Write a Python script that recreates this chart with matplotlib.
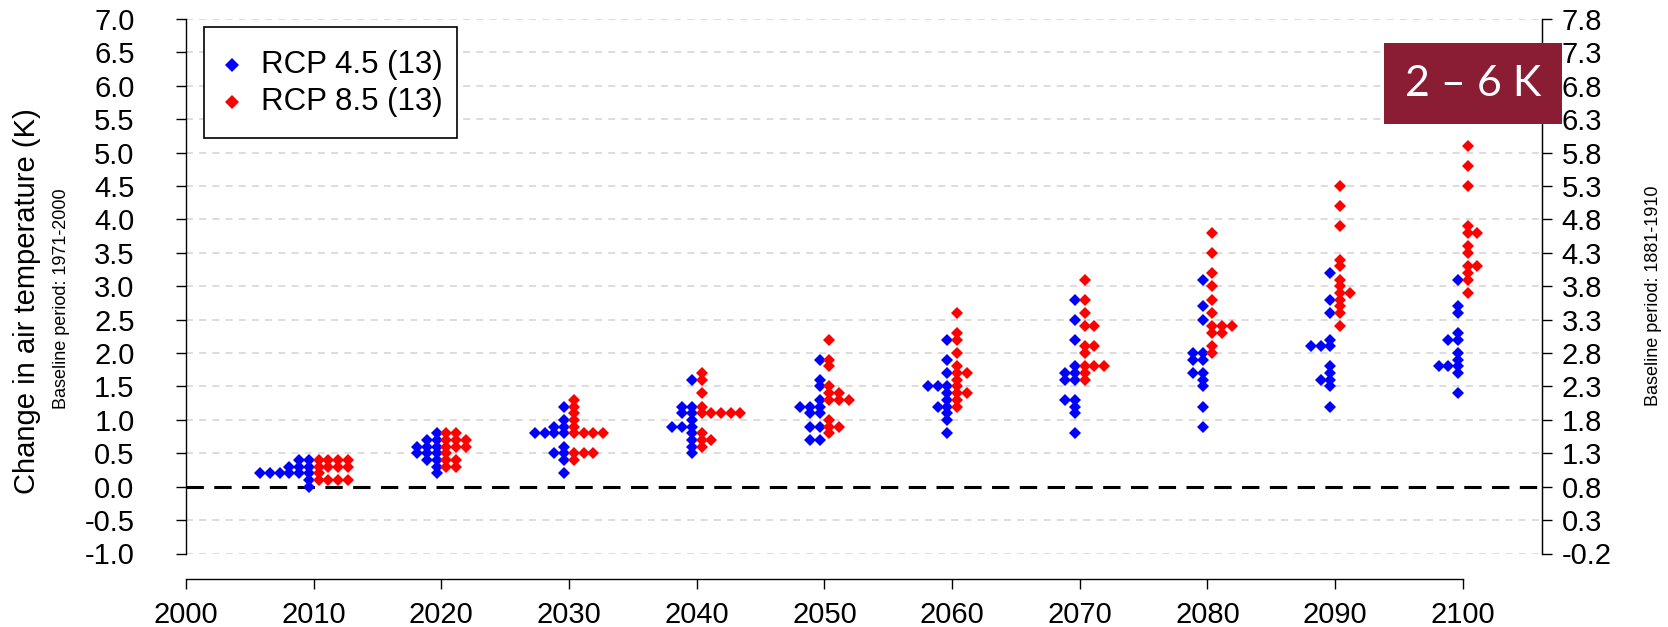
import matplotlib
matplotlib.use("Agg")
import matplotlib.pyplot as plt
import numpy as np
from matplotlib.patches import Rectangle

plt.rcParams['font.family'] = ['Liberation Sans', 'DejaVu Sans']
plt.rcParams['lines.scale_dashes'] = False

# ---------------- data ----------------
decades = [2010, 2020, 2030, 2040, 2050, 2060, 2070, 2080, 2090, 2100]

rcp45_2010 = [0.4, 0.4, 0.3, 0.3, 0.3, 0.2, 0.2, 0.2, 0.2, 0.2, 0.2, 0.1, 0.0]
rcp45_2020 = [0.8, 0.7, 0.7, 0.6, 0.6, 0.6, 0.5, 0.5, 0.5, 0.4, 0.4, 0.3, 0.2]
rcp45_2030 = [1.2, 1.0, 0.9, 0.9, 0.8, 0.8, 0.8, 0.8, 0.6, 0.5, 0.5, 0.4, 0.2]
rcp45_2040 = [1.6, 1.2, 1.2, 1.1, 1.1, 1.0, 0.9, 0.9, 0.9, 0.8, 0.7, 0.6, 0.5]
rcp45_2050 = [1.9, 1.6, 1.5, 1.3, 1.2, 1.2, 1.2, 1.1, 1.1, 0.9, 0.9, 0.7, 0.7]
rcp45_2060 = [2.2, 1.9, 1.7, 1.5, 1.5, 1.5, 1.4, 1.3, 1.2, 1.2, 1.1, 1.0, 0.8]
rcp45_2070 = [2.8, 2.5, 2.2, 1.8, 1.7, 1.7, 1.6, 1.6, 1.3, 1.3, 1.2, 1.1, 0.8]
rcp45_2080 = [3.1, 2.7, 2.5, 2.0, 2.0, 1.9, 1.9, 1.7, 1.7, 1.6, 1.5, 1.2, 0.9]
rcp45_2090 = [3.2, 2.8, 2.6, 2.2, 2.1, 2.1, 2.1, 1.8, 1.7, 1.6, 1.6, 1.5, 1.2]
rcp45_2100 = [3.1, 2.7, 2.6, 2.3, 2.2, 2.2, 2.0, 1.9, 1.8, 1.8, 1.8, 1.7, 1.4]

rcp85_2010 = [0.4, 0.4, 0.4, 0.4, 0.3, 0.3, 0.3, 0.3, 0.2, 0.1, 0.1, 0.1, 0.1]
rcp85_2020 = [0.8, 0.8, 0.7, 0.7, 0.7, 0.6, 0.6, 0.6, 0.5, 0.4, 0.4, 0.3, 0.3]
rcp85_2030 = [1.3, 1.2, 1.1, 1.0, 0.9, 0.8, 0.8, 0.8, 0.8, 0.5, 0.5, 0.5, 0.4]
rcp85_2040 = [1.7, 1.6, 1.4, 1.2, 1.1, 1.1, 1.1, 1.1, 1.1, 0.8, 0.7, 0.7, 0.6]
rcp85_2050 = [2.2, 1.9, 1.8, 1.5, 1.4, 1.4, 1.3, 1.3, 1.3, 1.0, 0.9, 0.9, 0.8]
rcp85_2060 = [2.6, 2.3, 2.2, 2.0, 1.8, 1.7, 1.7, 1.6, 1.5, 1.4, 1.4, 1.3, 1.2]
rcp85_2070 = [3.1, 2.8, 2.6, 2.4, 2.4, 2.1, 2.1, 2.0, 1.8, 1.8, 1.8, 1.7, 1.6]
rcp85_2080 = [3.8, 3.5, 3.2, 3.0, 2.8, 2.6, 2.4, 2.4, 2.4, 2.3, 2.3, 2.1, 2.0]
rcp85_2090 = [4.5, 4.2, 3.9, 3.4, 3.3, 3.1, 3.0, 2.9, 2.9, 2.8, 2.7, 2.6, 2.4]
rcp85_2100 = [5.1, 4.8, 4.5, 3.9, 3.8, 3.8, 3.6, 3.5, 3.3, 3.3, 3.2, 3.1, 2.9]

rcp45 = [rcp45_2010, rcp45_2020, rcp45_2030, rcp45_2040, rcp45_2050,
         rcp45_2060, rcp45_2070, rcp45_2080, rcp45_2090, rcp45_2100]
rcp85 = [rcp85_2010, rcp85_2020, rcp85_2030, rcp85_2040, rcp85_2050,
         rcp85_2060, rcp85_2070, rcp85_2080, rcp85_2090, rcp85_2100]

series_labels = ["RCP 4.5 (13)", "RCP 8.5 (13)"]
series_colors = ["#0000FF", "#FF0000"]
left_ticks = np.arange(-1.0, 7.01, 0.5)
baseline_offset = 0.8
year_ticks = list(range(2000, 2101, 10))
range_text = "2 \u2013 6 K"

# ---------------- layout helpers ----------------
STEP = 0.76   # horizontal spacing of swarm points (years)


def swarm_x(year, values, side):
    counts = {}
    xs = []
    for v in values:
        key = int(round(v * 10))
        k = counts.get(key, 0)
        counts[key] = k + 1
        xs.append(year + side * (k + 0.5) * STEP)
    return xs


W, H = 1668, 627
fig = plt.figure(figsize=(W / 100, H / 100), dpi=100)
x0, x1 = 186, 1542
y0, y1 = 19, 553.5
ax = fig.add_axes([x0 / W, 1 - y1 / H, (x1 - x0) / W, (y1 - y0) / H])
ax.set_xlim(2000, 2106.2)
ax.set_ylim(-1.0, 7.0)

# grid lines
for yv in left_ticks:
    if abs(yv) < 1e-9:
        continue
    ax.axhline(yv, color="#D3D3D3", lw=1.1, linestyle=(0, (5, 4.5)), zorder=1)
ax.axhline(0.0, color="black", lw=2.2, linestyle=(0, (12.5, 7.5)), zorder=1)

# points
for year, v45, v85 in zip(decades, rcp45, rcp85):
    ax.plot(swarm_x(year, v45, -1), v45, linestyle="none", marker="D",
            ms=5.8, mew=0, color=series_colors[0], zorder=3)
    ax.plot(swarm_x(year, v85, +1), v85, linestyle="none", marker="D",
            ms=5.8, mew=0, color=series_colors[1], zorder=3)

# axes styling
ax.spines['top'].set_visible(False)
for s in ['left', 'right', 'bottom']:
    ax.spines[s].set_linewidth(1.0)
ax.spines['left'].set_bounds(-1.0, 7.0)
ax.spines['right'].set_bounds(-1.0, 7.0)
ax.spines['bottom'].set_bounds(2000, 2100)
ax.spines['bottom'].set_position(('outward', 18))

ax.set_yticks(left_ticks)
ax.set_yticklabels([f"{t:.1f}" for t in left_ticks])
ax.set_xticks(year_ticks)
ax.set_xticklabels([str(t) for t in year_ticks])
ax.tick_params(axis='both', labelsize=21, length=7, width=1.0)
ax.tick_params(axis='y', pad=30)
ax.tick_params(axis='x', pad=9)

ax2 = ax.twinx()
ax2.set_ylim(-1.0 + baseline_offset, 7.0 + baseline_offset)
right_ticks = left_ticks + baseline_offset
ax2.set_yticks(right_ticks)
ax2.set_yticklabels([f"{t:.1f}" for t in right_ticks])
ax2.tick_params(axis='y', labelsize=21, length=7, width=1.0, pad=7)
for s in ['top', 'left', 'bottom']:
    ax2.spines[s].set_visible(False)
ax2.spines['right'].set_bounds(-1.0 + baseline_offset, 7.0 + baseline_offset)

# axis labels
fig.text(27 / W, 1 - 301 / H, "Change in air temperature (K)", rotation=90,
         ha="center", va="center", fontsize=21, zorder=4)
fig.text(62 / W, 1 - 299 / H, "Baseline period: 1971-2000", rotation=90,
         ha="center", va="center", fontsize=13)
fig.text(1654 / W, 1 - 296 / H, "Baseline period: 1881-1910", rotation=90,
         ha="center", va="center", fontsize=13)

# legend box
leg = Rectangle((204 / W, 1 - 138 / H), (457 - 204) / W, (138 - 27) / H,
                transform=fig.transFigure, facecolor="white", edgecolor="black",
                lw=1.2, zorder=5)
fig.add_artist(leg)
for i, (lab, col) in enumerate(zip(series_labels, series_colors)):
    yy = 1 - (65 + i * 37) / H
    fig.add_artist(plt.Line2D([231.5 / W], [yy], marker="D", ms=7, mew=0,
                              color=col, transform=fig.transFigure, zorder=6))
    fig.text(261 / W, yy, lab, ha="left", va="center", fontsize=22.5, zorder=6)

# highlighted range box
box = Rectangle((1384 / W, 1 - 124 / H), (1562 - 1384) / W, (124 - 43) / H,
                transform=fig.transFigure, facecolor="#8A1D33", edgecolor="none",
                zorder=7)
fig.add_artist(box)
fig.text(1473 / W, 1 - 84 / H, range_text, ha="center", va="center",
         fontsize=31, color="white", family=["Lato", "DejaVu Sans"], zorder=8)

fig.savefig("out.png", dpi=100)
